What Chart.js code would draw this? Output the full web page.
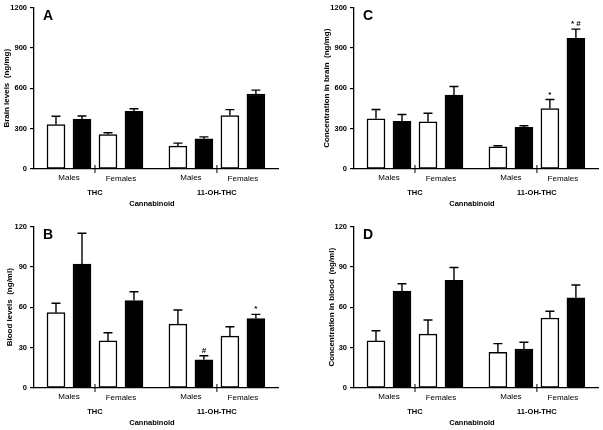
<!DOCTYPE html>
<html>
<head>
<meta charset="utf-8">
<script src="https://cdn.jsdelivr.net/npm/chart.js@4.4.1/dist/chart.umd.min.js"></script>
<style>
  body { margin: 0; background: #fff; }
  #wrap { position: relative; width: 603px; height: 430px; }
  canvas { position: absolute; }
</style>
</head>
<body>
<div id="wrap">
  <canvas id="panelA" width="283" height="211" style="left:0;top:0"></canvas>
  <canvas id="panelC" width="283" height="211" style="left:320px;top:0"></canvas>
  <canvas id="panelB" width="283" height="211" style="left:0;top:219px"></canvas>
  <canvas id="panelD" width="283" height="211" style="left:320px;top:219px"></canvas>
</div>
<script>
// groups along the x axis: THC males, THC females, 11-OH-THC males, 11-OH-THC females
var groups = ['THC', '11-OH-THC'];
var sexes = ['Males', 'Females'];
var xTitle = 'Cannabinoid';

// A - brain levels (ng/mg)
var brainOpen = [330, 256, 170, 397];
var brainOpenSem = [62, 13, 22, 44];
var brainFilled = [370, 429, 224, 557];
var brainFilledSem = [24, 19, 15, 29];

// B - blood levels (ng/ml)
var bloodOpen = [56, 35, 47.5, 38.5];
var bloodOpenSem = [7, 6, 10.5, 7];
var bloodFilled = [92, 65, 21, 51.5];
var bloodFilledSem = [23, 6.5, 3, 3.2];
var bloodFilledMarks = ['', '', '#', '*'];

// C - concentration in brain (ng/mg)
var brainConcOpen = [373, 351, 165, 449];
var brainConcOpenSem = [69, 63, 8, 67];
var brainConcFilled = [355, 549, 309, 970];
var brainConcFilledSem = [50, 64, 12, 69];
var brainConcOpenMarks = ['', '', '', '*'];
var brainConcFilledMarks = ['', '', '', '* #'];

// D - concentration in blood (ng/ml)
var bloodConcOpen = [35, 40, 26.5, 52];
var bloodConcOpenSem = [7.5, 10.5, 6.5, 5];
var bloodConcFilled = [72, 80, 29, 67];
var bloodConcFilledSem = [5.5, 9.5, 5, 9.5];

var brainTicks = [0, 300, 600, 900, 1200];
var bloodTicks = [0, 30, 60, 90, 120];

var FONT = '"Liberation Sans", Arial, sans-serif';
var GROUP_GAP = 4.69; // distance between THC and 11-OH-THC blocks, in bar slots

function slotX(i, filled) {
    var g = Math.floor(i / 2), s = i % 2;
    return g * GROUP_GAP + s * 2 + (filled ? 1 : 0);
}

function toPoints(values, filled) {
    return values.map(function (v, i) { return { x: slotX(i, filled), y: v }; });
}

var panelText = {
    id: 'panelText',
    afterDatasetsDraw: function (chart, args, opts) {
        var ctx = chart.ctx, xs = chart.scales.x, ys = chart.scales.y;
        var area = chart.chartArea;
        ctx.save();
        ctx.fillStyle = '#000';
        ctx.strokeStyle = '#000';

        // error bars (SEM, upward only) and significance marks
        chart.data.datasets.forEach(function (ds, di) {
            var meta = chart.getDatasetMeta(di);
            meta.data.forEach(function (bar, i) {
                var top = ys.getPixelForValue(ds.data[i].y + ds.sem[i]);
                ctx.lineWidth = 1.4;
                ctx.beginPath();
                ctx.moveTo(bar.x, bar.y);
                ctx.lineTo(bar.x, top);
                ctx.moveTo(bar.x - 4.5, top);
                ctx.lineTo(bar.x + 4.5, top);
                ctx.stroke();
                if (ds.marks && ds.marks[i]) {
                    ctx.font = 'bold 8px ' + FONT;
                    ctx.textAlign = 'center';
                    ctx.textBaseline = 'alphabetic';
                    ctx.fillText(ds.marks[i], bar.x, top - 3);
                }
            });
        });

        // category labels under the axis
        var base = area.bottom;
        ctx.textAlign = 'center';
        ctx.textBaseline = 'middle';
        for (var i = 0; i < 4; i++) {
            ctx.font = '8px ' + FONT;
            ctx.fillText(sexes[i % 2], xs.getPixelForValue(slotX(i, false) + 0.5), base + (i % 2 ? 10 : 9));
        }
        ctx.font = 'bold 7.5px ' + FONT;
        var gx = [];
        groups.forEach(function (g, k) {
            var x = xs.getPixelForValue(k * GROUP_GAP + 1.5);
            gx.push(x);
            ctx.fillText(g, x, base + 24);
            // break mark between males and females
            ctx.lineWidth = 1;
            ctx.beginPath();
            ctx.moveTo(x, base - 4);
            ctx.lineTo(x, base + 4);
            ctx.stroke();
        });
        ctx.font = 'bold 7.5px ' + FONT;
        ctx.fillText(xTitle, (gx[0] + gx[1]) / 2 - 4, base + 35);

        // y title
        ctx.save();
        ctx.translate(opts.titleX, (area.top + area.bottom) / 2);
        ctx.rotate(-Math.PI / 2);
        ctx.font = 'bold 8px ' + FONT;
        ctx.fillText(opts.yTitle, 0, 0);
        ctx.restore();

        // panel letter
        ctx.font = 'bold 14px ' + FONT;
        ctx.textAlign = 'left';
        ctx.textBaseline = 'alphabetic';
        ctx.fillText(opts.letter, area.left + 9, area.top + 12);
        ctx.restore();
    }
};

function makePanel(id, letter, yTitle, titleX, ticks, open, openSem, filled, filledSem, openMarks, filledMarks) {
    new Chart(document.getElementById(id), {
        type: 'bar',
        data: {
            datasets: [{
                label: 'open',
                data: toPoints(open, false),
                sem: openSem,
                marks: openMarks,
                backgroundColor: '#fff',
                borderColor: '#000',
                borderWidth: 1.5,
                borderSkipped: false,
                barThickness: 18,
                grouped: false
            }, {
                label: 'filled',
                data: toPoints(filled, true),
                sem: filledSem,
                marks: filledMarks,
                backgroundColor: '#000',
                borderColor: '#000',
                borderWidth: 1.5,
                borderSkipped: false,
                barThickness: 18,
                grouped: false
            }]
        },
        options: {
            responsive: false,
            animation: false,
            layout: { padding: { top: 7, right: 5, left: 0, bottom: 0 } },
            plugins: {
                legend: { display: false },
                tooltip: { enabled: false },
                panelText: { letter: letter, yTitle: yTitle, titleX: titleX }
            },
            scales: {
                x: {
                    type: 'linear',
                    offset: false,
                    min: -0.846,
                    max: 8.54,
                    grid: { display: false },
                    border: { display: true, color: '#000', width: 1.3 },
                    ticks: { display: false },
                    afterFit: function (s) { s.height = 42; }
                },
                y: {
                    min: ticks[0],
                    max: ticks[ticks.length - 1],
                    afterBuildTicks: function (s) {
                        s.ticks = ticks.map(function (v) { return { value: v }; });
                    },
                    grid: { drawOnChartArea: false, drawTicks: true, tickLength: 4, color: '#000', lineWidth: 1.2 },
                    border: { display: true, color: '#000', width: 1.3 },
                    ticks: {
                        color: '#000', padding: 3,
                        font: { family: FONT, size: 7.5, weight: 'bold' },
                        callback: function (v) { return String(v); }
                    },
                    afterFit: function (s) { s.width = 34; }
                }
            }
        },
        plugins: [panelText]
    });
}

makePanel('panelA', 'A', 'Brain levels  (ng/mg)', 7, brainTicks,
    brainOpen, brainOpenSem, brainFilled, brainFilledSem, null, null);
makePanel('panelB', 'B', 'Blood levels  (ng/ml)', 10, bloodTicks,
    bloodOpen, bloodOpenSem, bloodFilled, bloodFilledSem, null, bloodFilledMarks);
makePanel('panelC', 'C', 'Concentration in brain  (ng/mg)', 7, brainTicks,
    brainConcOpen, brainConcOpenSem, brainConcFilled, brainConcFilledSem, brainConcOpenMarks, brainConcFilledMarks);
makePanel('panelD', 'D', 'Concentration in blood  (ng/ml)', 12, bloodTicks,
    bloodConcOpen, bloodConcOpenSem, bloodConcFilled, bloodConcFilledSem, null, null);
</script>
</body>
</html>
